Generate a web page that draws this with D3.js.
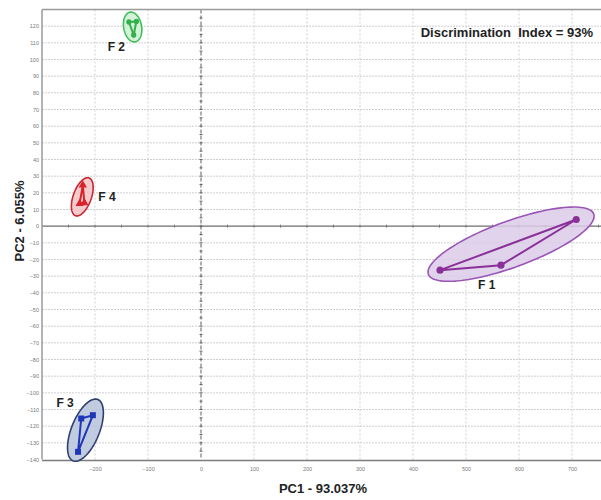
<!DOCTYPE html>
<html>
<head>
<meta charset="utf-8">
<script src="https://cdn.jsdelivr.net/npm/d3@7"></script>
<style>
  body { margin: 0; background: #fff; }
  svg { display: block; font-family: Arial, "Liberation Sans", sans-serif; }
</style>
</head>
<body>
<div id="chart"></div>
<script>
// groups and their three replicate scores
var groupNames = ["F 1", "F 2", "F 3", "F 4"];
var pc1Scores = [[451, 566, 708], [-136, -122, -127], [-226, -204, -232], [-223, -229, -220]];
var pc2Scores = [[-26.4, -23.4, 4.0], [122.5, 122.8, 114.7], [-115.4, -113.4, -135.4], [24.6, 13.6, 14.0]];

// confidence ellipses (centre + half axes, in score units)
var ellipseCenterX = [585, -129, -218, -224];
var ellipseCenterY = [-10.8, 119.5, -122.4, 17.6];
var ellipseMajor = [[156, 18.1], [4.9, -8.9], [23.3, 18.4], [12.9, 11.3]];
var ellipseMinor = [[-14.8, 13.0], [16.7, 0.9], [24.5, -3.1], [16.0, -1.9]];

var xTicks = [-200, -100, 0, 100, 200, 300, 400, 500, 600, 700];
var yTicks = [120, 110, 100, 90, 80, 70, 60, 50, 40, 30, 20, 10, 0, -10, -20, -30, -40,
  -50, -60, -70, -80, -90, -100, -110, -120, -130, -140];

var svgWidth = 601;
var svgHeight = 500;

var strokeColors = ["#8a3199", "#33b04a", "#1f36b8", "#d9242c"];
var ellipseStroke = ["#9a56b5", "#3fbf5a", "#2e3f70", "#c92630"];
var ellipseFill = ["#dccbe8", "#cdeed2", "#b7c3dc", "#f3c3c5"];
var labelOffsets = [[-33, 45], [-25, 24], [-29, -23], [16, 4]];

var svg = d3.select("#chart")
  .append("svg")
  .attr("width", svgWidth)
  .attr("height", svgHeight);

var xScale = d3.scaleLinear()
  .domain([-300, 800])
  .range([42, 625]);

var yScale = d3.scaleLinear()
  .domain([130, -140])
  .range([9.5, 459.5]);

// grid
var gridGroup = svg.append("g");

gridGroup.selectAll(".hgrid")
  .data(d3.range(-130, 130, 10).filter(d => d != 0))
  .enter()
  .append("line")
  .attr("x1", xScale(-300))
  .attr("x2", xScale(800))
  .attr("y1", d => yScale(d))
  .attr("y2", d => yScale(d))
  .attr("stroke", "#cfcfcf")
  .attr("stroke-width", 1)
  .attr("stroke-dasharray", "2,1");

gridGroup.selectAll(".vgrid")
  .data(xTicks.filter(d => d != 0))
  .enter()
  .append("line")
  .attr("x1", d => xScale(d))
  .attr("x2", d => xScale(d))
  .attr("y1", yScale(130))
  .attr("y2", yScale(-140))
  .attr("stroke", "#cfcfcf")
  .attr("stroke-width", 1)
  .attr("stroke-dasharray", "2,2");

// zero lines
svg.append("line")
  .attr("x1", xScale(-300))
  .attr("x2", xScale(800))
  .attr("y1", yScale(0))
  .attr("y2", yScale(0))
  .attr("stroke", "#6e6e6e")
  .attr("stroke-width", 1.4);

svg.append("line")
  .attr("x1", xScale(0))
  .attr("x2", xScale(0))
  .attr("y1", yScale(130))
  .attr("y2", yScale(-140))
  .attr("stroke", "#7a7a7a")
  .attr("stroke-width", 1.2)
  .attr("stroke-dasharray", "4,2");

svg.selectAll(".xminor")
  .data(d3.range(-250, 800, 50))
  .enter()
  .append("line")
  .attr("x1", d => xScale(d))
  .attr("x2", d => xScale(d))
  .attr("y1", yScale(0) - 1.5)
  .attr("y2", yScale(0) + 1.5)
  .attr("stroke", "#777");

svg.selectAll(".yminor")
  .data(d3.range(-135, 130, 5))
  .enter()
  .append("line")
  .attr("x1", xScale(0) - 1.5)
  .attr("x2", xScale(0) + 1.5)
  .attr("y1", d => yScale(d))
  .attr("y2", d => yScale(d))
  .attr("stroke", "#666");

// frame
svg.append("line")
  .attr("x1", xScale(-300))
  .attr("x2", xScale(800))
  .attr("y1", yScale(130))
  .attr("y2", yScale(130))
  .attr("stroke", "#9a9a9a")
  .attr("stroke-width", 1.5);

svg.append("line")
  .attr("x1", xScale(-300))
  .attr("x2", xScale(-300))
  .attr("y1", yScale(130))
  .attr("y2", yScale(-140))
  .attr("stroke", "#9a9a9a")
  .attr("stroke-width", 1.5);

svg.append("line")
  .attr("x1", xScale(-300))
  .attr("x2", xScale(800))
  .attr("y1", yScale(-140) + 1)
  .attr("y2", yScale(-140) + 1)
  .attr("stroke", "#7c7c7c")
  .attr("stroke-width", 1.6);

// axes (tiny tick labels, no domain path)
var bottomAxis = d3.axisBottom(xScale)
  .tickValues(xTicks)
  .tickSize(0)
  .tickPadding(6);

var leftAxis = d3.axisLeft(yScale)
  .tickValues(yTicks)
  .tickSize(0)
  .tickPadding(3);

var xAxisGroup = svg.append("g")
  .attr("transform", `translate(0, ${yScale(-140) + 2})`)
  .call(bottomAxis);

var yAxisGroup = svg.append("g")
  .attr("transform", `translate(${xScale(-300)}, 0)`)
  .call(leftAxis);

[xAxisGroup, yAxisGroup].forEach(g => {
  g.select(".domain").remove();
  g.selectAll("text")
    .style("font-size", "5.5px")
    .style("font-family", "Arial, 'Liberation Sans', sans-serif")
    .attr("fill", "#7a7a7a");
});

// ellipses
function ellipsePoints(i) {
  return d3.range(0, 2 * Math.PI + 0.01, Math.PI / 60).map(t => [
    ellipseCenterX[i] + Math.cos(t) * ellipseMajor[i][0] + Math.sin(t) * ellipseMinor[i][0],
    ellipseCenterY[i] + Math.cos(t) * ellipseMajor[i][1] + Math.sin(t) * ellipseMinor[i][1]
  ]);
}

var lineGen = d3.line()
  .x(d => xScale(d[0]))
  .y(d => yScale(d[1]));

var groups = svg.selectAll(".grp")
  .data(groupNames)
  .enter()
  .append("g");

groups.append("path")
  .attr("d", (d, i) => lineGen(ellipsePoints(i)) + "Z")
  .attr("fill", (d, i) => ellipseFill[i])
  .attr("fill-opacity", 0.85)
  .attr("stroke", (d, i) => ellipseStroke[i])
  .attr("stroke-width", 1.6);

groups.append("path")
  .attr("d", (d, i) => lineGen(d3.zip(pc1Scores[i], pc2Scores[i])) + "Z")
  .attr("fill", "none")
  .attr("stroke", (d, i) => strokeColors[i])
  .attr("stroke-width", 2);

var symbolTypes = [d3.symbolCircle, d3.symbolCircle, d3.symbolSquare, d3.symbolTriangle];
var symbolSizes = [40, 22, 36, 30];

groups.each(function (name, i) {
  d3.select(this).selectAll("path.pt")
    .data(d3.zip(pc1Scores[i], pc2Scores[i]))
    .enter()
    .append("path")
    .attr("class", "pt")
    .attr("transform", d => `translate(${xScale(d[0])}, ${yScale(d[1])})`)
    .attr("d", d3.symbol().type(symbolTypes[i]).size(symbolSizes[i]))
    .attr("fill", strokeColors[i]);
});

groups.append("text")
  .attr("x", (d, i) => xScale(ellipseCenterX[i]) + labelOffsets[i][0])
  .attr("y", (d, i) => yScale(ellipseCenterY[i]) + labelOffsets[i][1])
  .style("font-size", "12px")
  .style("font-weight", "bold")
  .attr("fill", "#222")
  .text(d => d);

// titles
svg.append("text")
  .attr("x", 593)
  .attr("y", 37)
  .attr("text-anchor", "end")
  .style("font-size", "13px")
  .style("font-weight", "bold")
  .style("white-space", "pre")
  .attr("xml:space", "preserve")
  .attr("fill", "#222")
  .text("Discrimination  Index = 93%");

svg.append("text")
  .attr("x", 323)
  .attr("y", 493)
  .attr("text-anchor", "middle")
  .style("font-size", "13px")
  .style("font-weight", "bold")
  .attr("fill", "#222")
  .text("PC1 - 93.037%");

svg.append("text")
  .attr("transform", "translate(24, 221) rotate(-90)")
  .attr("text-anchor", "middle")
  .style("font-size", "13px")
  .style("font-weight", "bold")
  .attr("fill", "#222")
  .text("PC2 - 6.055%");
</script>
</body>
</html>
